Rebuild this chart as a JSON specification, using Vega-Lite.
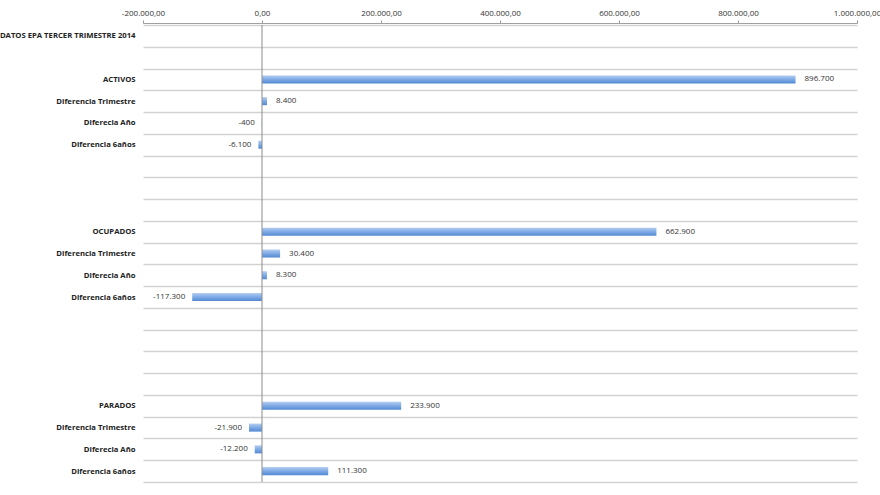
{
  "$schema": "https://vega.github.io/schema/vega-lite/v6.json",
  "width": 714,
  "height": 457,
  "autosize": "none",
  "padding": {"left": 143, "top": 25, "right": 23, "bottom": 13},
  "background": "white",
  "config": {
    "view": {"stroke": null},
    "locale": {"number": {"decimal": ",", "thousands": ".", "grouping": [3], "currency": ["", " €"], "minus": "-"}}
  },
  "data": {
    "values": [
      {"k": "DATOS EPA TERCER TRIMESTRE 2014#0", "v": null},
      {"k": "#1", "v": null},
      {"k": "ACTIVOS#2", "v": 896700},
      {"k": "Diferencia Trimestre#3", "v": 8400},
      {"k": "Diferecia Año#4", "v": -400},
      {"k": "Diferencia 6años#5", "v": -6100},
      {"k": "#6", "v": null},
      {"k": "#7", "v": null},
      {"k": "#8", "v": null},
      {"k": "OCUPADOS#9", "v": 662900},
      {"k": "Diferencia Trimestre#10", "v": 30400},
      {"k": "Diferecia Año#11", "v": 8300},
      {"k": "Diferencia 6años#12", "v": -117300},
      {"k": "#13", "v": null},
      {"k": "#14", "v": null},
      {"k": "#15", "v": null},
      {"k": "#16", "v": null},
      {"k": "PARADOS#17", "v": 233900},
      {"k": "Diferencia Trimestre#18", "v": -21900},
      {"k": "Diferecia Año#19", "v": -12200},
      {"k": "Diferencia 6años#20", "v": 111300}
    ]
  },
  "layer": [
    {
      "mark": {
        "type": "bar",
        "height": {"band": 0.37},
        "color": {
          "gradient": "linear", "x1": 0, "y1": 0, "x2": 0, "y2": 1,
          "stops": [
            {"offset": 0, "color": "#b4cdf0"},
            {"offset": 0.5, "color": "#7eaae6"},
            {"offset": 1, "color": "#5289d3"}
          ]
        }
      },
      "encoding": {
        "y": {
          "field": "k", "type": "nominal", "sort": null,
          "scale": {
            "domain": ["DATOS EPA TERCER TRIMESTRE 2014#0", "#1", "ACTIVOS#2", "Diferencia Trimestre#3", "Diferecia Año#4", "Diferencia 6años#5", "#6", "#7", "#8", "OCUPADOS#9", "Diferencia Trimestre#10", "Diferecia Año#11", "Diferencia 6años#12", "#13", "#14", "#15", "#16", "PARADOS#17", "Diferencia Trimestre#18", "Diferecia Año#19", "Diferencia 6años#20"],
            "paddingInner": 0, "paddingOuter": 0
          },
          "axis": {
            "title": null, "domain": false, "ticks": false,
            "labelExpr": "isString(datum.value) ? split(datum.value, '#')[0] : ''",
            "labelFont": "Open Sans", "labelFontWeight": "bold", "labelFontSize": 7.7,
            "labelColor": "#222", "labelPadding": 8, "labelLimit": 0,
            "grid": true, "tickBand": "extent", "gridColor": "#d2d2d2", "gridWidth": 1.5
          }
        },
        "x": {
          "field": "v", "type": "quantitative",
          "scale": {"domain": [-200000, 1000000], "nice": false, "zero": false},
          "axis": {
            "orient": "top", "title": null, "grid": false, "offset": 2,
            "values": [-200000, 0, 200000, 400000, 600000, 800000, 1000000],
            "format": ",.2f", "labelFlush": false, "labelOverlap": false,
            "labelFont": "Open Sans", "labelFontSize": 8, "labelColor": "#333",
            "labelPadding": 3, "tickSize": 3, "tickColor": "#999", "domainColor": "#a0a0a0"
          }
        }
      }
    },
    {
      "data": {"values": [{"z": 0}]},
      "mark": {"type": "rule", "color": "#8c8c8c", "strokeWidth": 1},
      "encoding": {"x": {"field": "z", "type": "quantitative"}}
    },
    {
      "transform": [{"filter": "datum.v > 0"}],
      "mark": {"type": "text", "align": "left", "dx": 9, "font": "Open Sans", "fontSize": 8, "color": "#333"},
      "encoding": {
        "y": {"field": "k", "type": "nominal", "sort": null},
        "x": {"field": "v", "type": "quantitative"},
        "text": {"field": "v", "type": "quantitative", "format": ",.0f"}
      }
    },
    {
      "transform": [{"filter": "datum.v < 0"}],
      "mark": {"type": "text", "align": "right", "dx": -7, "font": "Open Sans", "fontSize": 8, "color": "#333"},
      "encoding": {
        "y": {"field": "k", "type": "nominal", "sort": null},
        "x": {"field": "v", "type": "quantitative"},
        "text": {"field": "v", "type": "quantitative", "format": ",.0f"}
      }
    }
  ]
}
